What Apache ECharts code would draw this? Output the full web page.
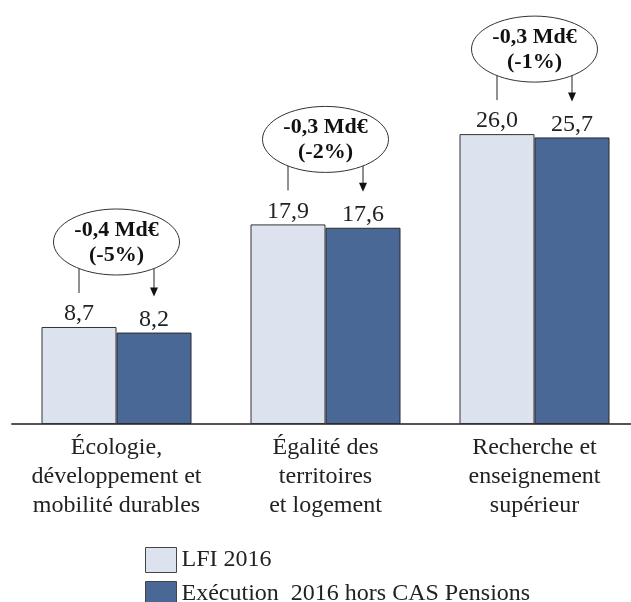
<!DOCTYPE html>
<html>
<head>
<meta charset="utf-8">
<script src="https://cdn.jsdelivr.net/npm/echarts@6/dist/echarts.min.js"></script>
<style>
  html, body { margin: 0; padding: 0; background: #fff; overflow: hidden; }
  #chart { width: 642px; height: 620px; }
</style>
</head>
<body>
<div id="chart"></div>
<script>
const categories = [
  "Écologie,\ndéveloppement et\nmobilité durables",
  "Égalité des\nterritoires\net logement",
  "Recherche et\nenseignement\nsupérieur",
];
const lfi2016 = [8.7, 17.9, 26.0];
const execution2016 = [8.2, 17.6, 25.7];
const ecartMd = ["-0,4 Md€", "-0,3 Md€", "-0,3 Md€"];
const ecartPct = ["(-5%)", "(-2%)", "(-1%)"];
const seriesNames = ["LFI 2016", "Exécution  2016 hors CAS Pensions"];

const FONT = '"Liberation Serif", "Times New Roman", serif';
const BAR_W = 75;

const fmt = (p) => p.value.toFixed(1).replace(".", ",");

const chart = echarts.init(document.getElementById("chart"));

// ellipse + connector + arrow above each pair of bars
const renderDiff = (params, api) => {
  const i = params.dataIndex;
  const p1 = api.coord([api.value(0), api.value(1)]);
  const p2 = api.coord([api.value(0), api.value(2)]);
  const cx = p1[0];
  const x1 = cx - BAR_W / 2;
  const x2 = cx + BAR_W / 2;
  const ecy = p1[1] - 85;
  const rx = 63;
  const ry = 33;
  const edge = ecy + ry * Math.sqrt(1 - Math.pow(BAR_W / 2 / rx, 2));
  const tip = p2[1] - 36;
  const line = { stroke: "#222", lineWidth: 1 };
  return {
    type: "group",
    children: [
      {
        type: "line",
        shape: { x1: x1, y1: edge, x2: x1, y2: p1[1] - 34 },
        style: line,
      },
      {
        type: "line",
        shape: { x1: x2, y1: edge, x2: x2, y2: tip - 8 },
        style: line,
      },
      {
        type: "polygon",
        shape: { points: [[x2 - 4, tip - 9], [x2 + 4, tip - 9], [x2, tip]] },
        style: { fill: "#111" },
      },
      {
        type: "ellipse",
        shape: { cx: cx, cy: ecy, rx: rx, ry: ry },
        style: { fill: "#fff", stroke: "#333", lineWidth: 1 },
      },
      {
        type: "text",
        style: {
          text: ecartMd[i],
          x: cx,
          y: ecy - 12,
          align: "center",
          verticalAlign: "middle",
          font: "bold 22px " + FONT,
          fill: "#111",
        },
      },
      {
        type: "text",
        style: {
          text: ecartPct[i],
          x: cx,
          y: ecy + 13,
          align: "center",
          verticalAlign: "middle",
          font: "bold 22px " + FONT,
          fill: "#111",
        },
      },
    ],
  };
};

const options = {
  backgroundColor: "#fff",
  animation: false,
  textStyle: { fontFamily: FONT },
  grid: { left: 12, top: 89.5, width: 627, height: 334.5 },
  legend: {
    data: seriesNames,
    orient: "vertical",
    left: 145,
    top: 547,
    padding: 0,
    itemWidth: 31,
    itemHeight: 25,
    itemGap: 8,
    icon: "rect",
    itemStyle: { borderColor: "#444", borderWidth: 1 },
    textStyle: { fontSize: 24, lineHeight: 25, color: "#222", fontFamily: FONT },
  },
  xAxis: {
    type: "category",
    data: categories,
    axisTick: { show: false },
    axisLine: { lineStyle: { color: "#555", width: 2 } },
    axisLabel: {
      interval: 0,
      margin: 9,
      fontSize: 24,
      lineHeight: 29,
      color: "#222",
      fontFamily: FONT,
    },
  },
  yAxis: {
    type: "value",
    min: 0,
    max: 30,
    show: false,
    splitLine: { show: false },
  },
  series: [
    {
      name: seriesNames[0],
      type: "bar",
      data: lfi2016,
      barWidth: BAR_W,
      barGap: "0%",
      itemStyle: { color: "#DCE2EE", borderColor: "#333", borderWidth: 1 },
      label: {
        show: true,
        position: "top",
        distance: 1,
        fontSize: 24,
        color: "#222",
        fontFamily: FONT,
        formatter: fmt,
      },
    },
    {
      name: seriesNames[1],
      type: "bar",
      data: execution2016,
      barWidth: BAR_W,
      barGap: "0%",
      itemStyle: { color: "#4A6896", borderColor: "#2a2a2a", borderWidth: 1 },
      label: {
        show: true,
        position: "top",
        distance: 1,
        fontSize: 24,
        color: "#222",
        fontFamily: FONT,
        formatter: fmt,
      },
    },
    {
      type: "custom",
      renderItem: renderDiff,
      data: categories.map((c, i) => [i, lfi2016[i], execution2016[i]]),
      z: 10,
      silent: true,
    },
  ],
};

chart.setOption(options);
</script>
</body>
</html>
